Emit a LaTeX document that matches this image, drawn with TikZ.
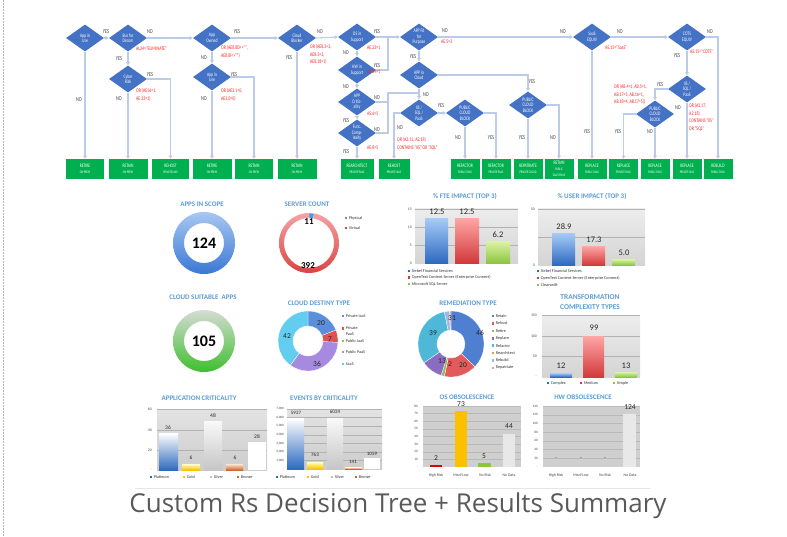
\documentclass[tikz,border=0pt]{standalone}
\usepackage{fontspec}
\setmainfont{Carlito}
\newfontfamily\cond[FakeStretch=0.72]{Carlito}
\newfontfamily\titlefont{Open Sans}
\usetikzlibrary{shapes.geometric,arrows.meta,calc}

\definecolor{dblue}{HTML}{4472C4}
\definecolor{gboxc}{HTML}{00B050}
\definecolor{lineblue}{HTML}{BCCBE8}
\definecolor{annred}{HTML}{FF2424}
\definecolor{ttl}{HTML}{5B9BD5}
\definecolor{bluetop}{HTML}{A8CBF8}
\definecolor{bluebot}{HTML}{2D6AC0}
\definecolor{redtop}{HTML}{FFA6A6}
\definecolor{redbot}{HTML}{D23A3A}
\definecolor{grntop}{HTML}{DDF3A8}
\definecolor{grnbot}{HTML}{8CC63F}
\definecolor{cIaaS}{HTML}{5B8EDB}
\definecolor{cPrivPaaS}{HTML}{E05252}
\definecolor{cPubIaaS}{HTML}{9BBB59}
\definecolor{cPubPaaS}{HTML}{A58AE0}
\definecolor{cSaaS}{HTML}{62CDEE}
\definecolor{rRetain}{HTML}{4F7FD0}
\definecolor{rRehost}{HTML}{E25B5B}
\definecolor{rRetire}{HTML}{9BBB59}
\definecolor{rReplace}{HTML}{8A6CC0}
\definecolor{rRefactor}{HTML}{4FB7D8}
\definecolor{rRearch}{HTML}{F79646}
\definecolor{rRebuild}{HTML}{9DB9E8}
\definecolor{rRepat}{HTML}{F0A0A0}
\definecolor{goldc}{HTML}{FFC000}
\definecolor{bronzec}{HTML}{D0662E}
\definecolor{silverc}{HTML}{BFBFBF}
\definecolor{ringBt}{HTML}{A7C7F2}
\definecolor{ringBb}{HTML}{3B78D4}
\definecolor{ringGt}{HTML}{D5DCD3}
\definecolor{ringGb}{HTML}{3EBF2E}
\definecolor{ringRt}{HTML}{F5A3A3}
\definecolor{ringRb}{HTML}{D94545}

\newcommand\sm[1]{{\fontsize{3.7}{4.3}\selectfont #1}}
\newcommand\seg[7]{\fill[#7, draw=white, line width=0.3pt] ([shift={(#5:#4)}]#1,#2) arc[start angle=#5,end angle=#6,radius=#4] -- ([shift={(#6:#3)}]#1,#2) arc[start angle=#6,end angle=#5,radius=#3] -- cycle;}
\newcommand\lgd[5]{\fill[#4] (#2-1.3,#3-1.3) rectangle ++(2.6,2.6); \node[lg] (#1) at (#2+2.6,#3) {#5};}

\tikzset{
  dia/.style={diamond, fill=dblue, inner sep=0pt, aspect=1.4, minimum width=38pt, minimum height=27pt, text=white, align=center, font=\cond\fontsize{5.3}{5.4}\selectfont},
  gb/.style={rectangle, fill=gboxc, inner sep=0pt, minimum height=20pt, text=white, align=center, font=\cond\fontsize{5.2}{5.6}\selectfont},
  conn/.style={draw=lineblue, line width=1.1pt, -{Triangle[length=3.2pt,width=3.8pt]}},
  connl/.style={draw=lineblue, line width=1.1pt},
  yn/.style={font=\cond\fontsize{6}{6}\selectfont, text=black!75, inner sep=0pt},
  ann/.style={font=\cond\fontsize{5.5}{7.5}\selectfont, text=annred, align=left, inner sep=0pt, anchor=north west},
  ttlt/.style={font=\bfseries\fontsize{7}{9}\selectfont, text=ttl, inner sep=0pt, align=center},
  val/.style={font=\fontsize{8.5}{9}\selectfont, text=black!85, inner sep=0pt},
  sval/.style={font=\fontsize{5.5}{6}\selectfont, text=black!85, inner sep=0pt},
  dval/.style={font=\fontsize{7.5}{8}\selectfont, text=black!85, inner sep=0pt},
  ax/.style={font=\fontsize{3.8}{4}\selectfont, text=black!75, inner sep=0pt, anchor=east},
  xl/.style={font=\fontsize{3.9}{4}\selectfont, text=black!75, inner sep=0pt},
  lg/.style={font=\fontsize{4.2}{5.3}\selectfont, text=black!80, inner sep=0pt, anchor=west, align=left},
  plotbg/.style={top color=gray!14, bottom color=gray!34},
  grid/.style={draw=gray!60, line width=0.4pt},
  big/.style={font=\bfseries\fontsize{16}{17}\selectfont, inner sep=0pt},
}

\begin{document}
\begin{tikzpicture}[x=1pt,y=-1pt]
\useasboundingbox (0,0) rectangle (787,536);
\coordinate (fr1) at (3.5,0);
\coordinate (fr2) at (3.5,536);
\draw[gray!55, dash pattern=on 1.5pt off 1.5pt, line width=0.6pt] (fr1) -- (fr2);

% ================= DECISION TREE =================
\node[dia] (d1) at (85,38) {App in\\Use};
\node[dia] (d2) at (128,38) {Bus for\\Decom};
\node[dia] (d3) at (128,79) {Cyber\\Risk};
\node[dia] (d4) at (212,38) {App\\Owned};
\node[dia] (d5) at (212,77) {App in\\Use};
\node[dia] (d6) at (297,38) {Cloud\\Blocker};
\node[dia] (d7) at (357,37) {OS in\\Support};
\node[dia] (d8) at (357,70) {HW in\\Support};
\node[dia] (d9) at (357,102) {APP\\Critic-\\ality};
\node[dia] (d10) at (357,133) {Func.\\Comp-\\lexity};
\node[dia] (d11) at (419,37) {APP Fit\\for\\Purpose};
\node[dia] (d12) at (419,75) {APP in\\Cloud};
\node[dia] (d13) at (419,113) {IIS /\\SQL /\\PaaS};
\node[dia] (d14) at (465,113) {PUBLIC\\CLOUD\\BLOCK};
\node[dia] (d15) at (528,105) {PUBLIC\\CLOUD\\BLOCK};
\node[dia] (d16) at (592,37) {SaaS\\EQUIV};
\node[dia] (d17) at (687,37) {COTS\\EQUIV};
\node[dia] (d18) at (687,89) {IIS /\\SQL /\\PaaS};
\node[dia] (d19) at (655,114) {PUBLIC\\CLOUD\\BLOCK};

\node[gb, minimum width=38pt] (b1) at (85,169) {RETIRE\\\sm{ON PREM}};
\node[gb, minimum width=39pt] (b2) at (128,169) {RETAIN\\\sm{ON PREM}};
\node[gb, minimum width=37pt] (b3) at (170.5,169) {REHOST\\\sm{PRIVATE IAAS}};
\node[gb, minimum width=39pt] (b4) at (212,169) {RETIRE\\\sm{ON PREM}};
\node[gb, minimum width=38pt] (b5) at (254,169) {RETAIN\\\sm{ON PREM}};
\node[gb, minimum width=39pt] (b6) at (297,169) {RETAIN\\\sm{ON PREM}};
\node[gb, minimum width=33pt] (b7) at (357,169) {REARCHITECT\\\sm{PRIVATE PAAS}};
\node[gb, minimum width=31pt] (b8) at (394,169) {REHOST\\\sm{PRIVATE IAAS}};
\node[gb, minimum width=29pt] (b9) at (465,169) {REFACTOR\\\sm{PUBLIC PAAS}};
\node[gb, minimum width=29pt] (b10) at (496,169) {REFACTOR\\\sm{PRIVATE PAAS}};
\node[gb, minimum width=29pt] (b11) at (528,169) {REPATRIATE\\\sm{PRIVATE CLOUD}};
\node[gb, minimum width=29pt] (b12) at (559,169) {RETAIN\\\sm{PUBLIC}\\\sm{SAAS/PAAS}};
\node[gb, minimum width=29pt] (b13) at (592,169) {REPLACE\\\sm{PUBLIC SAAS}};
\node[gb, minimum width=29pt] (b14) at (623.5,169) {REPLACE\\\sm{PRIVATE PAAS}};
\node[gb, minimum width=29pt] (b15) at (655,169) {REPLACE\\\sm{PUBLIC PAAS}};
\node[gb, minimum width=29pt] (b16) at (687,169) {REPLACE\\\sm{PRIVATE IAAS}};
\node[gb, minimum width=29pt] (b17) at (718,169) {REBUILD\\\sm{PUBLIC PAAS}};

\coordinate (j1) at (388,37);
\coordinate (j2a) at (388,93);
\coordinate (j2) at (419,93);
\coordinate (j3) at (388,102);

\draw[conn] (d1.east) -- (d2.west);
\draw[conn] (d1.south) -- (b1.north);
\draw[conn] (d2.east) -- (d4.west);
\draw[conn] (d2.south) -- (d3.north);
\draw[conn] (d3.south) -- (b2.north);
\draw[conn] (d3.east) -| (b3.north);
\draw[conn] (d4.east) -- (d6.west);
\draw[conn] (d4.south) -- (d5.north);
\draw[conn] (d5.south) -- (b4.north);
\draw[conn] (d5.east) -| (b5.north);
\draw[conn] (d6.south) -- (b6.north);
\draw[conn] (d6.east) -- (d7.west);
\draw[conn] (d7.east) -- (d11.west);
\draw[conn] (d7.south) -- (d8.north);
\draw[connl] (d8.east) -| (j1);
\draw[conn] (d8.south) -- (d9.north);
\draw[connl] (d9.east) -| (j2a) -- (j2);
\draw[connl] (d10.east) -| (j3);
\draw[conn] (d9.south) -- (d10.north);
\draw[conn] (d10.south) -- (b7.north);
\draw[conn] (d11.east) -- (d16.west);
\draw[conn] (d11.south) -- (d12.north);
\draw[conn] (d12.south) -- (d13.north);
\draw[conn] (d12.east) -| (d15.north);
\draw[conn] (d13.east) -- (d14.west);
\draw[conn] (d13.west) -| (b8.north);
\draw[conn] (d14.south) -- (b9.north);
\draw[conn] (d14.east) -| (b10.north);
\draw[conn] (d15.south) -- (b11.north);
\draw[conn] (d15.east) -| (b12.north);
\draw[conn] (d16.south) -- (b13.north);
\draw[conn] (d16.east) -- (d17.west);
\draw[conn] (d17.east) -| (b17.north);
\draw[conn] (d17.south) -- (d18.north);
\draw[conn] (d18.west) -| (d19.north);
\draw[conn] (d18.south) -- (b16.north);
\draw[conn] (d19.west) -| (b14.north);
\draw[conn] (d19.south) -- (b15.north);

\node[yn] (l1) at (106,32) {YES};
\node[yn] (l2) at (79,100) {NO};
\node[yn] (l3) at (150,32) {NO};
\node[yn] (l4) at (119,59) {YES};
\node[yn] (l5) at (119,99) {NO};
\node[yn] (l6) at (150,75) {YES};
\node[yn] (l7) at (237,32) {YES};
\node[yn] (l8) at (204,58) {NO};
\node[yn] (l9) at (204,99) {NO};
\node[yn] (l10) at (234,75) {YES};
\node[yn] (l11) at (289,58) {YES};
\node[yn] (l12) at (320,32) {NO};
\node[yn] (l13) at (377,32) {YES};
\node[yn] (l14) at (346,53) {NO};
\node[yn] (l15) at (377,66) {YES};
\node[yn] (l16) at (346,87) {NO};
\node[yn] (l17) at (377,98) {NO};
\node[yn] (l18) at (346,121) {YES};
\node[yn] (l19) at (377,130) {NO};
\node[yn] (l20) at (346,152) {YES};
\node[yn] (l21) at (445,31) {NO};
\node[yn] (l22) at (563,32) {NO};
\node[yn] (l23) at (413,57) {YES};
\node[yn] (l24) at (426,95) {NO};
\node[yn] (l25) at (532,82) {YES};
\node[yn] (l26) at (441,106) {YES};
\node[yn] (l27) at (400,128) {NO};
\node[yn] (l28) at (458,138) {NO};
\node[yn] (l29) at (491,138) {YES};
\node[yn] (l30) at (522,138) {YES};
\node[yn] (l31) at (553,138) {NO};
\node[yn] (l32) at (587,132) {YES};
\node[yn] (l33) at (620,32) {NO};
\node[yn] (l34) at (710,32) {NO};
\node[yn] (l35) at (677,56) {YES};
\node[yn] (l36) at (660,85) {YES};
\node[yn] (l37) at (678,108) {NO};
\node[yn] (l38) at (618,132) {YES};
\node[yn] (l39) at (650,132) {NO};

\node[ann] (a1) at (136,46.5) {AL24="ELIMINATE"};
\node[ann] (a2) at (136,88.5) {OR (AE16=1,\\AE 23=1)};
\node[ann] (a3) at (221,45.5) {OR (AE8.8D<>"",\\AE8.8I<>"")};
\node[ann] (a4) at (221,88.5) {OR (AE3.1=0,\\AE3.0=0)};
\node[ann] (a5) at (310,44.5) {OR (AE8.3<3,\\AE8.3=3,\\AE8.18=1)};
\node[ann] (a6) at (367,45.5) {AE.23=1};
\node[ann] (a7) at (367,69.5) {AE.24=1};
\node[ann] (a8) at (367,111.5) {AS.6=5};
\node[ann] (a9) at (367,145.5) {AE.8=5};
\node[ann] (a10) at (441,39.5) {AE.5=3};
\node[ann] (a11) at (397,137.5) {OR (A2.11, A2.18)\\CONTAINS "IIS" OR "SQL"};
\node[ann] (a12) at (605,45.5) {AE.15="SaaS"};
\node[ann] (a13) at (690,49.5) {AE.15="COTS"};
\node[ann] (a14) at (614,84.5) {OR (AB.4=1, AB.5=1,\\AB.17=5, AB.16=1,\\AB.18=4, AB.17=5))};
\node[ann] (a15) at (689,103.5) {OR (A2.17,\\A2.18)\\CONTAINS "IIS"\\OR "SQL"};

% ================= DASHBOARD =================
% Apps in scope
\node[ttlt] (t1) at (202,204) {APPS IN SCOPE};
\shade[top color=ringBt, bottom color=ringBb, even odd rule] (204,243) circle (31) (204,243) circle (20);
\node[big] (v1) at (204,243) {124};

% Server count
\node[ttlt] (t2) at (307,204) {SERVER COUNT};
\shade[top color=ringRt, bottom color=ringRb, even odd rule] (309,243) circle (30) (309,243) circle (25);
\seg{309}{243}{25}{30}{-90}{-80}{cIaaS}
\node[font=\bfseries\fontsize{9}{9}\selectfont, inner sep=0pt] (v2a) at (309,222) {11};
\node[font=\bfseries\fontsize{9}{9}\selectfont, inner sep=0pt] (v2b) at (308,266) {392};
\lgd{sl1}{346}{218}{cIaaS}{Physical}
\lgd{sl2}{346}{228}{ringRb}{Virtual}

% FTE impact
\node[ttlt] (t3) at (465,196) {\% FTE IMPACT (TOP 3)};
\shade[plotbg] (415,208) rectangle (518,263);
\foreach \yy in {209,227,245} \draw[grid] (415,\yy) -- (518,\yy);
\shade[top color=bluetop,bottom color=bluebot] (425,218) rectangle (448,263);
\shade[top color=redtop,bottom color=redbot] (455,218) rectangle (479,263);
\shade[top color=grntop,bottom color=grnbot] (486,241) rectangle (510,263);
\node[val] (fv1) at (437,212) {12.5};
\node[val] (fv2) at (467,212) {12.5};
\node[val] (fv3) at (498,235) {6.2};
\node[ax] (fa1) at (412,209) {15};
\node[ax] (fa2) at (412,227) {10};
\node[ax] (fa3) at (412,245) {5};
\node[ax] (fa4) at (412,263) {0};
\lgd{fl1}{409}{271}{bluebot}{Siebel Financial Services}
\lgd{fl2}{409}{277.5}{redbot}{OpenText Content Server (Enterprise Connect)}
\lgd{fl3}{409}{284}{grnbot}{Microsoft SQL Server}

% User impact
\node[ttlt] (t4) at (592,196) {\% USER IMPACT (TOP 3)};
\shade[plotbg] (538,208) rectangle (645,265);
\foreach \yy in {209,237} \draw[grid] (538,\yy) -- (645,\yy);
\shade[top color=bluetop,bottom color=bluebot] (552,233) rectangle (575,265);
\shade[top color=redtop,bottom color=redbot] (582,246) rectangle (605,265);
\shade[top color=grntop,bottom color=grnbot] (612,259) rectangle (635,265);
\node[val] (uv1) at (564,227) {28.9};
\node[val] (uv2) at (594,240) {17.3};
\node[val] (uv3) at (624,253) {5.0};
\node[ax] (ua1) at (535,209) {50};
\node[ax] (ua2) at (535,265) {0};
\lgd{ul1}{538}{271}{bluebot}{Siebel Financial Services}
\lgd{ul2}{538}{278}{redbot}{OpenText Content Server (Enterprise Connect)}
\lgd{ul3}{538}{285}{grnbot}{Clearswift}

% Cloud suitable apps
\node[ttlt] (t5) at (203,297) {CLOUD SUITABLE\ \ APPS};
\shade[top color=ringGt, bottom color=ringGb, even odd rule] (204,341) circle (31) (204,341) circle (20);
\node[big] (v3) at (204,341) {105};

% Cloud destiny type
\node[ttlt] (t6) at (319,303) {CLOUD DESTINY TYPE};
\seg{308}{341}{15}{30}{-90}{-21.4}{cIaaS}
\seg{308}{341}{15}{30}{-21.4}{2.6}{cPrivPaaS}
\seg{308}{341}{15}{30}{2.6}{126}{cPubPaaS}
\seg{308}{341}{15}{30}{126}{270}{cSaaS}
\node[dval] (cv1) at (321,323) {20};
\node[dval] (cv2) at (330,339) {7};
\node[dval] (cv3) at (317,364) {36};
\node[dval] (cv4) at (287,336) {42};
\lgd{cl1}{343}{316}{cIaaS}{Private IaaS}
\fill[cPrivPaaS] (341.7,327.2) rectangle ++(2.6,2.6);
\node[lg] (cl2) at (345.6,331.2) {Private\\PaaS};
\lgd{cl3}{343}{341}{cPubIaaS}{Public IaaS}
\lgd{cl4}{343}{352}{cPubPaaS}{Public PaaS}
\lgd{cl5}{343}{364}{cSaaS}{SaaS}

% Remediation type
\node[ttlt] (t7) at (468,303) {REMEDIATION TYPE};
\seg{451}{344}{14}{33}{-90}{43.5}{rRetain}
\seg{451}{344}{14}{33}{43.5}{101.6}{rRehost}
\seg{451}{344}{14}{33}{101.6}{107.4}{rRetire}
\seg{451}{344}{14}{33}{107.4}{145.2}{rReplace}
\seg{451}{344}{14}{33}{145.2}{258.4}{rRefactor}
\seg{451}{344}{14}{33}{258.4}{267.1}{rRebuild}
\seg{451}{344}{14}{33}{267.1}{270}{rRepat}
\node[dval] (rv1) at (480,333) {46};
\node[dval] (rv2) at (463,365) {20};
\node[dval] (rv3) at (450,364) {2};
\node[dval] (rv4) at (442,361) {13};
\node[dval] (rv5) at (433,333) {39};
\node[dval] (rv6) at (450,318) {3};
\node[dval] (rv7) at (454,318) {1};
\lgd{rl1}{493}{316}{rRetain}{Retain}
\lgd{rl2}{493}{323.4}{rRehost}{Rehost}
\lgd{rl3}{493}{330.8}{rRetire}{Retire}
\lgd{rl4}{493}{338.2}{rReplace}{Replace}
\lgd{rl5}{493}{345.6}{rRefactor}{Refactor}
\lgd{rl6}{493}{353}{rRearch}{Rearchitect}
\lgd{rl7}{493}{360.4}{rRebuild}{Rebuild}
\lgd{rl8}{493}{367.8}{rRepat}{Repatriate}

% Transformation complexity
\node[ttlt, font=\bfseries\fontsize{7.4}{10}\selectfont] (t8) at (590,302) {TRANSFORMATION\\COMPLEXITY TYPES};
\shade[plotbg] (542,315) rectangle (640,377);
\foreach \yy in {315,336,356} \draw[grid] (542,\yy) -- (640,\yy);
\shade[top color=bluetop,bottom color=bluebot] (550,373) rectangle (572,377);
\shade[top color=redtop,bottom color=redbot] (583,336) rectangle (604,377);
\shade[top color=grntop,bottom color=grnbot] (615,372) rectangle (637,377);
\node[val] (xv1) at (561,366) {12};
\node[val] (xv2) at (594,328) {99};
\node[val] (xv3) at (626,366) {13};
\node[ax] (xa1) at (537,315) {150};
\node[ax] (xa2) at (537,336) {100};
\node[ax] (xa3) at (537,356) {50};
\node[ax] (xa4) at (537,377) {-};
\lgd{xl1}{548}{383}{bluebot}{Complex}
\lgd{xl2}{581}{383}{redbot}{Medium}
\lgd{xl3}{614}{383}{grnbot}{Simple}

% Application criticality
\node[ttlt] (t9) at (199,398) {APPLICATION CRITICALITY};
\shade[top color=gray!22, bottom color=gray!40] (157,409) rectangle (267,470);
\foreach \yy in {409,430,450} \draw[grid] (157,\yy) -- (267,\yy);
\shade[top color=white,bottom color=bluebot] (159,433) rectangle (178,470);
\shade[top color=yellow!25,bottom color=goldc] (182,464) rectangle (200,470);
\shade[top color=gray!5,bottom color=gray!45] (204,421) rectangle (222,470);
\shade[top color=orange!20,bottom color=bronzec] (226,464) rectangle (243,470);
\fill[white] (248,442) rectangle (266,470);
\node[sval] (av1) at (168,428) {36};
\node[sval] (av2) at (191,458) {6};
\node[sval] (av3) at (213,416) {48};
\node[sval] (av4) at (235,458) {6};
\node[sval] (av5) at (257,437) {28};
\node[ax] (aa1) at (152,409) {60};
\node[ax] (aa2) at (152,430) {40};
\node[ax] (aa3) at (152,450) {20};
\node[ax] (aa4) at (152,470) {-};
\lgd{al1}{151}{477}{bluebot}{Platinum}
\lgd{al2}{184}{477}{goldc}{Gold}
\lgd{al3}{211}{477}{silverc}{Silver}
\lgd{al4}{238}{477}{bronzec}{Bronze}

% Events by criticality
\node[ttlt] (t10) at (324,398) {EVENTS BY CRITICALITY};
\shade[top color=gray!22, bottom color=gray!40] (287,409) rectangle (382,469);
\foreach \yy in {409,417.6,426.1,434.7,443.3,451.9,460.4} \draw[grid] (287,\yy) -- (382,\yy);
\shade[top color=white,bottom color=bluebot] (287,418) rectangle (304,469);
\shade[top color=yellow!25,bottom color=goldc] (307,462) rectangle (323,469);
\shade[top color=gray!5,bottom color=gray!45] (327,418) rectangle (343,469);
\shade[top color=orange!20,bottom color=bronzec] (345,467.5) rectangle (362,469);
\fill[white] (364,458) rectangle (380,469);
\node[sval, font=\fontsize{5}{5}\selectfont] (ev1) at (296,413) {5927};
\node[sval, font=\fontsize{5}{5}\selectfont] (ev2) at (315,455) {763};
\node[sval, font=\fontsize{5}{5}\selectfont] (ev3) at (335,412) {6024};
\node[sval, font=\fontsize{5}{5}\selectfont] (ev4) at (353,462) {141};
\node[sval, font=\fontsize{5}{5}\selectfont] (ev5) at (372,454) {1059};
\node[ax, font=\fontsize{3.3}{4}\selectfont] (ea1) at (284,409) {7,000};
\node[ax, font=\fontsize{3.3}{4}\selectfont] (ea2) at (284,417.6) {6,000};
\node[ax, font=\fontsize{3.3}{4}\selectfont] (ea3) at (284,426.1) {5,000};
\node[ax, font=\fontsize{3.3}{4}\selectfont] (ea4) at (284,434.7) {4,000};
\node[ax, font=\fontsize{3.3}{4}\selectfont] (ea5) at (284,443.3) {3,000};
\node[ax, font=\fontsize{3.3}{4}\selectfont] (ea6) at (284,451.9) {2,000};
\node[ax, font=\fontsize{3.3}{4}\selectfont] (ea7) at (284,460.4) {1,000};
\node[ax, font=\fontsize{3.3}{4}\selectfont] (ea8) at (284,469) {-};
\lgd{el1}{277}{477}{bluebot}{Platinum}
\lgd{el2}{308}{477}{goldc}{Gold}
\lgd{el3}{332}{477}{silverc}{Silver}
\lgd{el4}{356}{477}{bronzec}{Bronze}

% OS obsolescence
\node[ttlt] (t11) at (467,397) {OS OBSOLESCENCE};
\fill[gray!38] (423,406) rectangle (521,467);
\foreach \i in {0,...,7} \draw[grid, draw=gray!55] (423,406+\i*7.625) -- (521,406+\i*7.625);
\fill[red!85!black] (430,465) rectangle (442,467);
\fill[goldc] (455,411) rectangle (467,467);
\fill[grnbot] (478,463) rectangle (491,467);
\fill[gray!18] (503,433.5) rectangle (515,467);
\node[dval] (ov1) at (436,458) {2};
\node[dval] (ov2) at (461,404) {73};
\node[dval] (ov3) at (484,456) {5};
\node[dval] (ov4) at (509,426) {44};
\foreach \v [count=\i from 0] in {80,70,60,50,40,30,20,10,-} \node[ax, font=\fontsize{3.4}{4}\selectfont] (oa\i) at (418,406+\i*7.625) {\v};
\node[xl] (ox1) at (436,475) {High Risk};
\node[xl] (ox2) at (461,475) {Med/Low};
\node[xl] (ox3) at (485,475) {No Risk};
\node[xl] (ox4) at (509,475) {No Data};

% HW obsolescence
\node[ttlt] (t12) at (583,397) {HW OBSOLESCENCE};
\fill[gray!38] (543,406) rectangle (640,467);
\foreach \i in {0,...,6} \draw[grid, draw=gray!55] (543,406+\i*8.714) -- (640,406+\i*8.714);
\fill[gray!18] (623,414) rectangle (636,467);
\node[dval] (hv1) at (630,407) {124};
\node[sval] (hv2) at (556,459) {-};
\node[sval] (hv3) at (581,459) {-};
\node[sval] (hv4) at (605,459) {-};
\foreach \v [count=\i from 0] in {140,120,100,80,60,40,20,-} \node[ax, font=\fontsize{3.4}{4}\selectfont] (ha\i) at (538,406+\i*8.714) {\v};
\node[xl] (hx1) at (556,475) {High Risk};
\node[xl] (hx2) at (581,475) {Med/Low};
\node[xl] (hx3) at (605,475) {No Risk};
\node[xl] (hx4) at (630,475) {No Data};

% Separator and title
\coordinate (sep1) at (135,488);
\coordinate (sep2) at (650,488);
\draw[gray!20, line width=0.6pt] (sep1) -- (sep2);
\node[font=\titlefont\fontsize{26}{30}\selectfont, text=black!65, inner sep=0pt] (title) at (398,506) {Custom Rs Decision Tree + Results Summary};
\end{tikzpicture}
\end{document}
